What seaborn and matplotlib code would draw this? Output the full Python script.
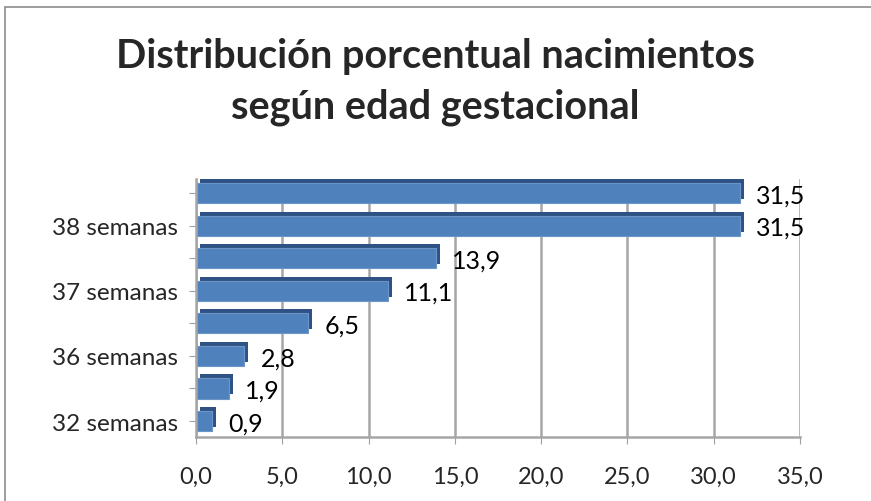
import matplotlib
matplotlib.use("Agg")
import matplotlib.pyplot as plt
import matplotlib.patches as mpatches
import matplotlib.patheffects as pe
import seaborn as sns
import pandas as pd

# datos (de arriba hacia abajo)
semanas = ["39 semanas", "38 semanas", "40 semanas", "37 semanas",
           "41 semanas", "36 semanas", "35 semanas", "32 semanas"]
porcentaje = [31.5, 31.5, 13.9, 11.1, 6.5, 2.8, 1.9, 0.9]
etiquetas_visibles = ["", "38 semanas", "", "37 semanas", "", "36 semanas", "", "32 semanas"]
xticks = [0, 5, 10, 15, 20, 25, 30, 35]

df = pd.DataFrame({"Semanas": semanas, "Porcentaje": porcentaje})

sns.set_style("white")
plt.rcParams["font.family"] = ["Lato", "DejaVu Sans"]

fig = plt.figure(figsize=(8.71, 5.02), dpi=100)
ax = fig.add_axes([0.225, 0.1275, 0.6935, 0.5135])

sns.barplot(data=df, x="Porcentaje", y="Semanas", orient="h", color="#4F81BD",
            saturation=1, width=0.62, edgecolor="#6C95C8", linewidth=0.8, ax=ax)

# efecto 3D simple: sombra oscura hacia arriba a la derecha
for p in ax.patches:
    p.set_path_effects([pe.SimplePatchShadow(offset=(3, 3), shadow_rgbFace="#2E5283", alpha=1),
                        pe.Normal()])

for i, v in enumerate(porcentaje):
    ax.text(v + 0.95, i + 0.05, f"{v:.1f}".replace(".", ","), va="center",
            ha="left", fontsize=18, color="black")

ax.set_xlim(0, 35)
ax.set_ylim(7.49, -0.43)
ax.set_xticks(xticks)
ax.set_xticklabels([f"{t:.1f}".replace(".", ",") for t in xticks], fontsize=17)
ax.set_yticks(range(len(semanas)))
ax.set_yticklabels(etiquetas_visibles, fontsize=17.5)
ax.tick_params(axis="x", pad=16, length=5, color="#A0A0A0", bottom=True)
ax.tick_params(axis="y", pad=8, length=5, color="#A0A0A0", left=True)
ax.set_xlabel("")
ax.set_ylabel("")
ax.xaxis.grid(True, color="#A6A6A6", linewidth=1.8)
ax.set_axisbelow(True)
for s in ["top", "right"]:
    ax.spines[s].set_visible(False)
for s in ["left", "bottom"]:
    ax.spines[s].set_color("#A6A6A6")
    ax.spines[s].set_linewidth(1.8)

fig.text(0.5, 0.836, "Distribución porcentual nacimientos\nsegún edad gestacional",
         ha="center", va="center", fontsize=28.5, fontweight="bold", linespacing=1.45)

fig.patches.append(mpatches.Rectangle((0.006, -0.1), 1.1, 1.084, transform=fig.transFigure,
                                      fill=False, edgecolor="#8C8C8C", linewidth=1.2))

fig.savefig("out.png", dpi=100)
